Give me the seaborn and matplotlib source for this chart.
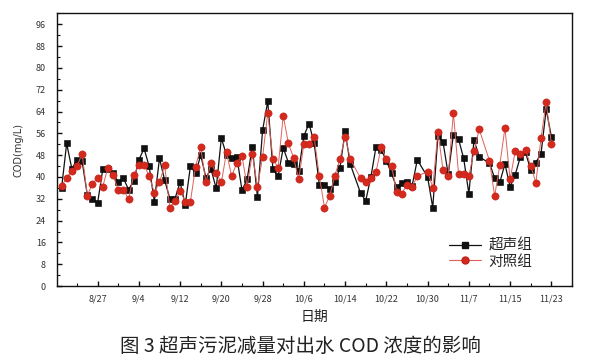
import numpy as np
import pandas as pd
import matplotlib
matplotlib.use("Agg")
import matplotlib.pyplot as plt
import matplotlib.dates as mdates
from matplotlib.ticker import MultipleLocator
from matplotlib.lines import Line2D
import seaborn as sns

# ---------------- data ----------------
start_date = "2013-08-20"
n_days = 96
# NaN = no measurement that day
ultrasonic = [35.8, 52.3, 43.0, 46.3, 45.7, 33.5, 32.0, 30.5, 42.8, 43.0,
              41.5, 38.0, 39.6, 35.4, 38.6, 46.2, 50.5, 43.9, 31.0, 46.8,
              38.9, 32.1, 32.0, 38.1, 29.8, 44.0, 41.4, 48.0, 39.8, 42.9,
              35.8, 54.3, 48.0, 47.1, 47.4, 35.2, 39.1, 51.1, 32.7, 57.2,
              67.8, 42.9, 40.2, 50.7, 45.3, 44.8, 42.3, 55.0, 59.6, 52.4,
              37.2, 37.2, 35.5, 38.0, 43.4, 56.7, 44.7, np.nan, 34.1, 31.3,
              40.0, 51.1, 50.0, 46.0, 41.3, 36.2, 37.9, 38.0, 36.8, 46.3,
              np.nan, 40.0, 28.8, 55.0, 52.7, 41.0, 55.5, 53.9, 46.8, 33.9,
              53.6, 47.4, np.nan, 45.1, 39.6, 38.0, 44.8, 36.4, 40.9, 47.4,
              49.0, 42.5, 45.3, 48.6, 64.8, 54.8]
control = [36.8, 39.6, 42.3, 43.9, 48.5, 33.2, 37.5, 39.8, 36.5, 43.4,
           40.6, 35.3, 35.3, 31.9, 40.7, 44.3, 44.5, 40.4, 34.2, 38.0,
           44.3, 28.8, 31.2, 34.9, 31.0, 31.0, 43.8, 50.9, 38.0, 45.2,
           41.4, 38.0, 49.0, 40.3, 45.2, 47.8, 36.5, 48.5, 36.4, 47.3,
           63.6, 46.7, 43.4, 62.5, 52.3, 47.1, 39.1, 52.0, 52.1, 54.5,
           40.4, 28.8, 33.0, 40.5, 46.5, 54.8, 46.7, np.nan, 39.5, 38.0,
           39.5, 41.9, 50.9, 46.6, 44.1, 34.6, 33.8, 37.2, 36.4, 40.3,
           np.nan, 42.0, 36.1, 56.6, 42.5, 40.3, 63.6, 41.2, 41.1, 40.3,
           49.4, 57.5, np.nan, 46.0, 33.0, 44.4, 58.0, 39.1, 49.6, 48.5,
           49.9, 44.1, 37.9, 54.3, 67.5, 52.1]
series_names = ["超声组", "对照组"]
tick_labels = ["8/27", "9/4", "9/12", "9/20", "9/28", "10/6", "10/14",
               "10/22", "10/30", "11/7", "11/15", "11/23"]
y_ticks = list(range(0, 97, 8))

dates = pd.date_range(start_date, periods=n_days, freq="D")
df = pd.DataFrame({
    "date": np.concatenate([dates, dates]),
    "COD": ultrasonic + control,
    "group": [series_names[0]] * n_days + [series_names[1]] * n_days,
}).dropna()

# ---------------- style ----------------
sns.set_theme(style="ticks")
plt.rcParams["font.family"] = ["Noto Sans CJK SC", "DejaVu Sans"]

fig = plt.figure(figsize=(5.95, 3.63), dpi=100)
ax = fig.add_axes([0.0958, 0.212, 0.8655, 0.751])

colors = {series_names[0]: "#111111", series_names[1]: "#d42a1e"}
markers = {series_names[0]: "s", series_names[1]: "o"}

sns.lineplot(data=df, x="date", y="COD", hue="group", style="group",
             palette=colors, markers=markers, dashes=False,
             markersize=5, linewidth=0.9, markeredgewidth=0.4,
             legend=False, ax=ax, sort=True)

for ln in ax.get_lines():
    if ln.get_marker() == "o":
        ln.set_color("#e0605a")
        ln.set_markerfacecolor("#d42a1e")
        ln.set_markeredgecolor("#c02018")
        ln.set_linewidth(0.7)
        ln.set_markersize(5.2)
    else:
        ln.set_markeredgecolor("#000000")
        ln.set_markersize(4.6)

# axes
x0 = pd.Timestamp(start_date)
ax.set_xlim(x0 - pd.Timedelta(hours=21), x0 + pd.Timedelta(days=98.7))
ax.set_ylim(0, 100)
tick_dates = [pd.Timestamp(f"2013-{t.split('/')[0]}-{t.split('/')[1]}") for t in tick_labels]
ax.set_xticks(tick_dates)
ax.set_xticklabels(tick_labels)
minor_dates = pd.date_range(tick_dates[0] - pd.Timedelta(days=4), tick_dates[-1] + pd.Timedelta(days=4), freq="4D")
ax.set_xticks(minor_dates, minor=True)
ax.set_yticks(y_ticks)
ax.yaxis.set_minor_locator(MultipleLocator(4))

for s in ax.spines.values():
    s.set_visible(True)
    s.set_linewidth(1.0)
    s.set_color("#111111")

ax.tick_params(axis="both", which="major", direction="in", length=3.5,
               width=1.0, labelsize=6.5, labelcolor="#333333", color="#111111")
ax.tick_params(axis="both", which="minor", direction="in", length=2,
               width=0.8, color="#111111")
ax.tick_params(axis="x", which="major", pad=6)
ax.tick_params(axis="y", which="major", pad=8)

ax.set_xlabel("日期", fontsize=10, color="#222222", labelpad=5)
ax.set_ylabel("COD(mg/L)", fontsize=7, color="#333333", labelpad=9,
              family=["DejaVu Sans"])

# legend
handles = [Line2D([], [], color="#111111", lw=0.9, marker="s", markersize=4,
                  markerfacecolor="#111111"),
           Line2D([], [], color="#e0605a", lw=0.8, marker="o", markersize=5,
                  markerfacecolor="#d42a1e", markeredgecolor="#c02018")]
ax.legend(handles, series_names, loc="upper left", bbox_to_anchor=(0.745, 0.205),
          frameon=False, fontsize=10.5, handlelength=2.2, handletextpad=0.5,
          labelspacing=0.1, borderpad=0.1)

fig.text(0.505, 0.045, "图 3 超声污泥减量对出水 COD 浓度的影响",
         ha="center", va="center", fontsize=14, color="#222222")

fig.savefig("out.png", dpi=100, facecolor="white")
